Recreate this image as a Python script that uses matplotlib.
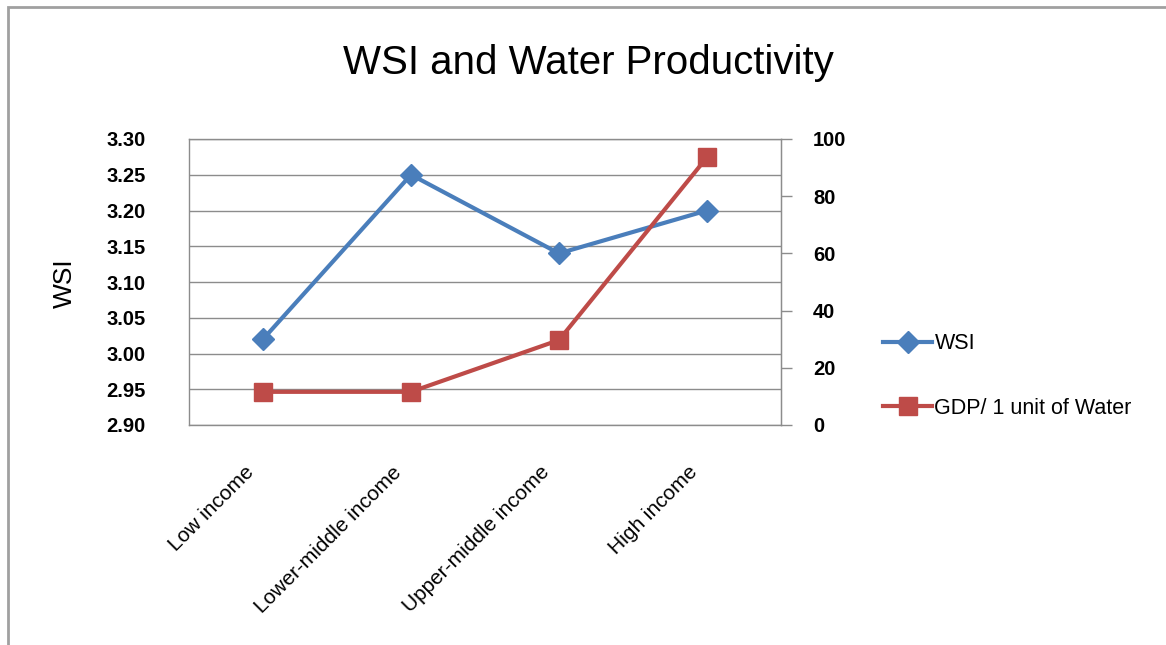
import matplotlib.pyplot as plt
import matplotlib.transforms as mtransforms
from matplotlib.lines import Line2D
from matplotlib.patches import Rectangle

plt.rcParams['font.family'] = ['Liberation Sans', 'DejaVu Sans']

categories = ["Low income", "Lower-middle income", "Upper-middle income", "High income"]
wsi = [3.02, 3.25, 3.14, 3.20]
gdp_per_water = [11.6, 11.6, 29.7, 93.6]
wsi_ticks = [2.90, 2.95, 3.00, 3.05, 3.10, 3.15, 3.20, 3.25, 3.30]
gdp_ticks = [0, 20, 40, 60, 80, 100]

blue = "#4A7EBB"
red = "#BE4B48"
grid_grey = "#8c8c8c"

fig = plt.figure(figsize=(11.66, 6.45), dpi=100)
ax = fig.add_axes([189 / 1166, 1 - 425 / 645, 592 / 1166, 286 / 645])
ax2 = ax.twinx()

x = list(range(len(categories)))

# WSI on the left axis
ax.plot(x, wsi, color=blue, linewidth=3, marker="D", markersize=11,
        markeredgecolor=blue, zorder=3)
ax.set_ylim(2.90, 3.30)
ax.set_yticks(wsi_ticks)
ax.set_yticklabels([f"{t:.2f}" for t in wsi_ticks], fontsize=14.5,
                   fontweight="bold")
ax.tick_params(axis="y", length=0, pad=31)
ax.grid(axis="y", color=grid_grey, linewidth=1)
ax.set_axisbelow(True)

ax.set_xlim(-0.5, len(categories) - 0.5)
ax.set_xticks(x)
ax.set_xticklabels(categories, rotation=45, ha="right", va="center",
                   rotation_mode="anchor", fontsize=15)
ax.tick_params(axis="x", length=0, pad=32)
# nudge the slanted labels a little to the left, like the original
shift = mtransforms.ScaledTranslation(-0.12, 0, fig.dpi_scale_trans)
for lbl in ax.get_xticklabels():
    lbl.set_transform(lbl.get_transform() + shift)

for side in ax.spines.values():
    side.set_color(grid_grey)
    side.set_linewidth(1)

# GDP per unit of water on the right axis
ax2.plot(x, gdp_per_water, color=red, linewidth=3, marker="s", markersize=13,
         markeredgecolor=red, zorder=3)
ax2.set_ylim(0, 100)
ax2.set_yticks(gdp_ticks)
ax2.set_yticklabels([str(t) for t in gdp_ticks], fontsize=14.5,
                    fontweight="bold")
ax2.tick_params(axis="y", length=8, width=1, color=grid_grey, pad=15)
for side in ax2.spines.values():
    side.set_visible(False)
ax2.spines["right"].set_visible(True)
ax2.spines["right"].set_color(grid_grey)

fig.text(588 / 1166, 1 - 63 / 645, "WSI and Water Productivity",
         fontsize=29, ha="center", va="center")
fig.text(65 / 1166, 1 - 283 / 645, "WSI", fontsize=19, rotation=90,
         ha="center", va="center")

handles = [
    Line2D([], [], color=blue, linewidth=3, marker="D", markersize=11),
    Line2D([], [], color=red, linewidth=3, marker="s", markersize=13),
]
fig.legend(handles, ["WSI", "GDP/ 1 unit of Water"], loc="center left",
           bbox_to_anchor=(872 / 1166, 1 - 376 / 645), frameon=False,
           fontsize=15.5, handlelength=2.3, handletextpad=0.1,
           labelspacing=2.0, borderpad=0)

# outer chart border
fig.patches.append(Rectangle((8 / 1166, -0.05), 1.2, 1.05 - 7 / 645,
                             transform=fig.transFigure, fill=False,
                             edgecolor="#a0a0a0", linewidth=2))

fig.savefig("out.png", dpi=100)
